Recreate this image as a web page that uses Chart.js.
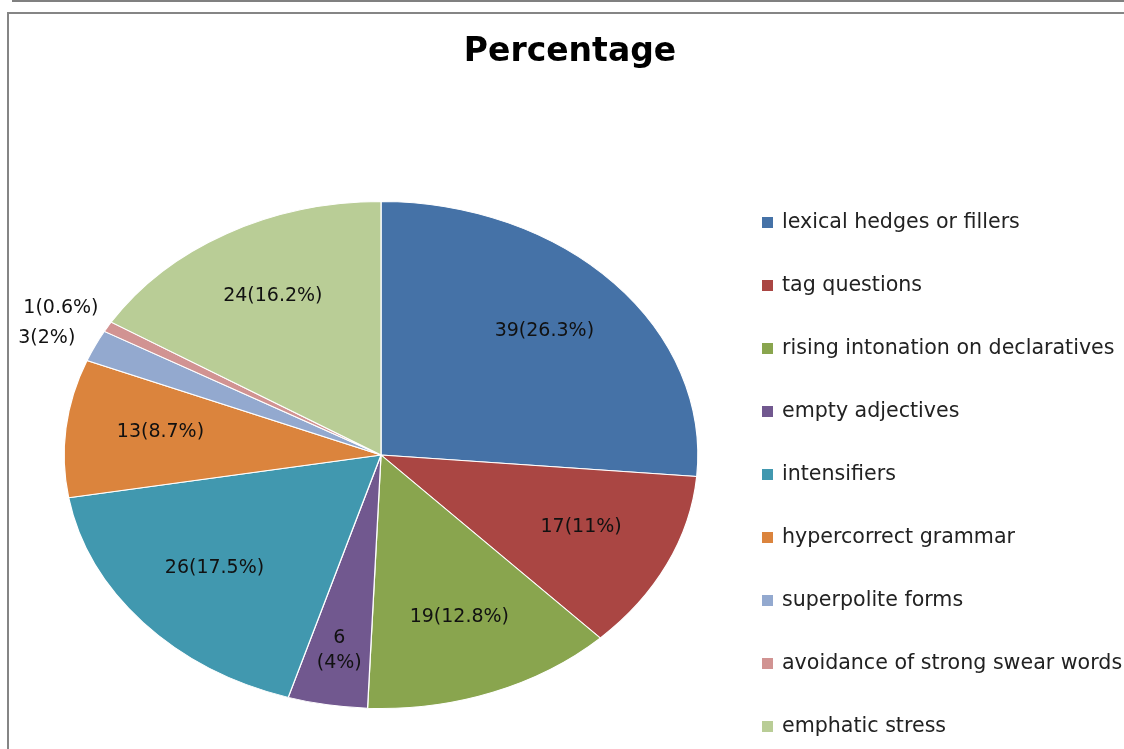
<!DOCTYPE html>
<html>
<head>
<meta charset="utf-8">
<title>Percentage</title>
<script src="https://cdn.jsdelivr.net/npm/chart.js@4/dist/chart.umd.min.js"></script>
<style>
    body { margin: 0; background: #fff; }
    #wrap { position: relative; width: 1124px; height: 749px; overflow: hidden; }
    .topline { position: absolute; left: 12px; top: 0; width: 1112px; height: 2px; background: #808080; }
    .frame { position: absolute; left: 7px; top: 12px; width: 1300px; height: 900px;
             border-top: 2px solid #858585; border-left: 2px solid #858585; }
    #chart { position: absolute; left: 0; top: 0; }
</style>
</head>
<body>
<div id="wrap">
    <div class="topline"></div>
    <div class="frame"></div>
    <canvas id="chart" width="1124" height="749"></canvas>
</div>
<script>
var categories = [
    'lexical hedges or fillers',
    'tag questions',
    'rising intonation on declaratives',
    'empty adjectives',
    'intensifiers',
    'hypercorrect grammar',
    'superpolite forms',
    'avoidance of strong swear words',
    'emphatic stress'
];
var counts = [39, 17, 19, 6, 26, 13, 3, 1, 24];
// percentages as printed on the original (truncated, not rounded)
var percents = ['26.3', '11', '12.8', '4', '17.5', '8.7', '2', '0.6', '16.2'];
var colors = ['#4572A7', '#AA4643', '#89A54E', '#71588F', '#4198AF', '#DB843D', '#93A9CF', '#D19392', '#B9CD96'];

// the original pie is an ellipse, so stretch the drawn circle sideways
var STRETCH_X = 1.25;

var stretchPie = {
    id: 'stretchPie',
    beforeDatasetsDraw: function (chart) {
        var arc = chart.getDatasetMeta(0).data[0];
        var ctx = chart.ctx;
        ctx.save();
        ctx.translate(arc.x, arc.y);
        ctx.scale(STRETCH_X, 1);
        ctx.translate(-arc.x, -arc.y);
    },
    afterDatasetsDraw: function (chart) {
        chart.ctx.restore();
    }
};

var sliceLabels = {
    id: 'sliceLabels',
    afterDraw: function (chart) {
        var ctx = chart.ctx;
        var meta = chart.getDatasetMeta(0);
        var total = 0;
        for (var k = 0; k < counts.length; k++) {
            total += counts[k];
        }
        var lastOutsideY = null;
        ctx.save();
        ctx.font = '19px "DejaVu Sans"';
        ctx.fillStyle = '#111';
        ctx.textBaseline = 'middle';
        ctx.textAlign = 'center';
        meta.data.forEach(function (arc, i) {
            var mid = (arc.startAngle + arc.endAngle) / 2;
            var share = counts[i] / total;
            var text = counts[i] + '(' + percents[i] + '%)';
            var r = arc.outerRadius;
            if (share < 0.03) {
                // tiny slices get their label outside, pushed apart if they collide
                var ox = arc.x + Math.cos(mid) * r * 1.12 * STRETCH_X - 14;
                var oy = arc.y + Math.sin(mid) * r * 1.12 + 5;
                if (lastOutsideY !== null && Math.abs(oy - lastOutsideY) < 30) {
                    oy = lastOutsideY - 30;
                }
                lastOutsideY = oy;
                ctx.fillText(text, ox, oy);
                return;
            }
            if (share < 0.05) {
                var nx = arc.x + Math.cos(mid) * r * 0.78 * STRETCH_X;
                var ny = arc.y + Math.sin(mid) * r * 0.78;
                ctx.fillText(String(counts[i]), nx, ny - 12);
                ctx.fillText('(' + percents[i] + '%)', nx, ny + 13);
                return;
            }
            var x = arc.x + Math.cos(mid) * r * 0.7 * STRETCH_X;
            var y = arc.y + Math.sin(mid) * r * 0.7;
            ctx.fillText(text, x, y - 4);
        });
        ctx.restore();
    }
};

// legend as a layout box on the right, so the pie sits left of it
var sideLegend = {
    id: 'sideLegend',
    beforeInit: function (chart) {
        var box = {
            position: 'right',
            weight: 10,
            fullSize: false,
            options: {},
            width: 0,
            height: 0,
            isHorizontal: function () { return false; },
            getPadding: function () { return {top: 0, left: 0, right: 0, bottom: 0}; },
            update: function (maxWidth, maxHeight) {
                this.width = 378;
                this.height = maxHeight;
                return {width: this.width, height: this.height};
            },
            draw: function () {
                var ctx = chart.ctx;
                ctx.save();
                ctx.font = '20.6px "DejaVu Sans"';
                ctx.textAlign = 'left';
                ctx.textBaseline = 'middle';
                for (var i = 0; i < categories.length; i++) {
                    var y = box.top + 22 + i * 63;
                    ctx.fillStyle = colors[i];
                    ctx.fillRect(box.left + 16, y - 6, 11, 11);
                    ctx.fillStyle = '#222';
                    ctx.fillText(categories[i], box.left + 36, y);
                }
                ctx.restore();
            }
        };
        Chart.layouts.addBox(chart, box);
    }
};

var ctx = document.getElementById('chart').getContext('2d');
var chart = new Chart(ctx, {
    type: 'pie',
    data: {
        labels: categories,
        datasets: [{
            data: counts,
            backgroundColor: colors,
            borderColor: '#ffffff',
            borderWidth: 1,
            clip: false
        }]
    },
    options: {
        responsive: false,
        devicePixelRatio: 1,
        animation: false,
        events: [],
        layout: {
            padding: {left: 16, right: 0, top: 0, bottom: 40}
        },
        plugins: {
            legend: {display: false},
            tooltip: {enabled: false},
            title: {
                display: true,
                text: 'Percentage',
                color: '#000',
                font: {family: 'DejaVu Sans', size: 33, weight: 'bold', lineHeight: 1.2},
                padding: {top: 32.2, bottom: 129.2}
            }
        }
    },
    plugins: [stretchPie, sliceLabels, sideLegend]
});
</script>
</body>
</html>
